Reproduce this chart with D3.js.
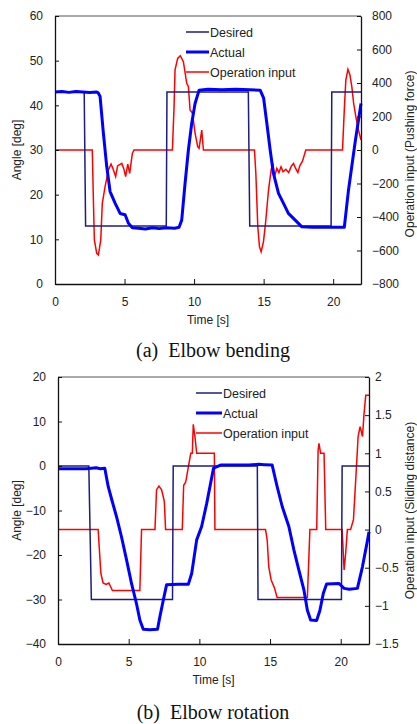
<!DOCTYPE html>
<html>
<head>
<meta charset="utf-8">
<script src="https://cdn.jsdelivr.net/npm/d3@7"></script>
<style>
  body { margin: 0; background: #fff; }
  svg { display: block; }
</style>
</head>
<body>
<div id="chart"></div>
<script>
// time [s], value pairs
const desiredBend = [[0, 43], [2.1, 43], [2.2, 13], [8.0, 13], [8.05, 43], [13.9, 43], [14.0, 13], [19.85, 13], [19.9, 43], [22, 43]];
const actualBend = [[0, 43], [0.5, 43.1], [1, 42.9], [1.5, 43.1], [2, 43], [2.5, 42.9], [3.0, 43], [3.1, 42.8], [3.24, 42], [3.48, 33.7], [3.72, 26.3], [3.96, 20.7], [4.32, 18.1], [4.68, 15.8], [5.04, 15.5], [5.28, 13.6], [5.56, 12.6], [6, 12.5], [6.5, 12.3], [7, 12.6], [7.5, 12.4], [8, 12.6], [8.6, 12.5], [8.92, 12.7], [9.11, 14.3], [9.35, 22.5], [9.59, 30], [9.83, 36], [10.07, 40.4], [10.36, 43.4], [11, 43.6], [12, 43.5], [13, 43.6], [14, 43.5], [14.75, 43.4], [15.0, 41.6], [15.23, 36], [15.47, 30], [15.7, 24.8], [16.07, 20.3], [16.42, 18.1], [16.78, 15.8], [17.27, 14.3], [17.75, 12.8], [18.5, 12.7], [19.5, 12.7], [20.8, 12.7], [21.1, 21], [21.58, 31.8], [22, 40.4]];
const inputBend = [[0, 0], [2.68, 0], [2.76, -299], [2.83, -537], [3.0, -617], [3.12, -627], [3.29, -537], [3.4, -318], [3.6, -219], [3.84, -119], [4.03, -84], [4.14, -105], [4.36, -159], [4.5, -95], [4.8, -80], [4.94, -110], [5.08, -159], [5.23, -84], [5.37, -139], [5.56, -20], [5.68, 0], [8.44, 0], [8.56, 259], [8.63, 478], [8.82, 547], [9.01, 563], [9.23, 527], [9.47, 398], [9.59, 380], [9.71, 239], [9.88, 220], [10.07, 100], [10.26, 20], [10.36, 10], [10.55, 119], [10.67, 0], [14.34, 0], [14.44, -139], [14.58, -458], [14.7, -577], [14.82, -607], [14.99, -547], [15.16, -418], [15.35, -239], [15.54, -119], [15.66, -80], [15.78, -159], [15.95, -110], [16.1, -135], [16.25, -100], [16.4, -130], [16.6, -115], [16.8, -135], [17.0, -95], [17.15, -80], [17.3, -110], [17.46, -135], [17.6, -95], [17.8, -65], [18.03, 0], [20.67, 0], [20.81, 259], [20.91, 418], [21.06, 482], [21.2, 450], [21.34, 378], [21.47, 279], [21.63, 199], [21.82, 119], [22, 60]];

const desiredRot = [[0, 0], [2.18, 0], [2.36, -30], [8.1, -30], [8.15, 0], [14.1, 0], [14.15, -30], [20.05, -30], [20.1, 0], [22, 0]];
const actualRot = [[0, -0.6], [1, -0.6], [2, -0.6], [2.7, -0.4], [3, -0.6], [3.31, -0.5], [3.55, -4.6], [3.78, -7.3], [4.14, -11.4], [4.49, -15.9], [4.85, -21.1], [5.2, -26.4], [5.55, -30.9], [5.79, -34.6], [6.03, -36.7], [6.5, -36.8], [7.04, -36.7], [7.21, -33.8], [7.45, -30.1], [7.68, -26.7], [8.5, -26.6], [9.22, -26.6], [9.46, -24.1], [9.81, -16.6], [10.16, -13.6], [10.52, -8.4], [11.0, -0.5], [11.5, 0.2], [12.5, 0.2], [13.5, 0.2], [14.2, 0.4], [14.6, 0.3], [15.15, 0.2], [15.5, -4.6], [15.86, -9.1], [16.33, -13.6], [16.69, -18.9], [17.04, -23.4], [17.4, -27.9], [17.64, -32.4], [17.87, -34.6], [18.3, -34.7], [18.53, -32.4], [18.77, -28.6], [19.0, -26.5], [19.88, -26.4], [20.24, -27.5], [20.6, -27.7], [21.18, -27.5], [21.54, -22.6], [21.9, -16.6], [22, -14.8]];
const inputRot = [[0, 0], [2.84, 0], [3.03, -0.57], [3.19, -0.7], [3.4, -0.72], [3.6, -0.7], [3.85, -0.8], [5.79, -0.8], [5.91, 0], [6.86, 0], [6.97, 0.52], [7.14, 0.57], [7.33, 0.52], [7.52, 0.37], [7.61, 0], [8.79, 0], [8.89, 0.58], [9.03, 0.62], [9.22, 0.82], [9.39, 1.0], [9.5, 1.0], [9.57, 1.38], [9.7, 1.2], [9.81, 1.0], [11.06, 1.0], [11.1, 0], [14.68, 0], [14.8, -0.14], [14.91, -0.49], [15.08, -0.66], [15.32, -0.77], [15.5, -0.89], [17.64, -0.89], [17.82, 0], [18.3, 0], [18.4, 1.04], [18.46, 1.13], [18.58, 1.0], [18.82, 1.0], [18.94, 0], [20.1, 0], [20.24, -0.53], [20.35, -0.31], [20.47, 0], [20.7, 0], [20.9, 0.13], [21.06, 0.65], [21.23, 1.22], [21.37, 1.35], [21.54, 1.22], [21.65, 1.52], [21.77, 1.76], [22, 1.76]];

const timeTicks = [0, 5, 10, 15, 20];
const angleTicksBend = [0, 10, 20, 30, 40, 50, 60];
const forceTicks = [-800, -600, -400, -200, 0, 200, 400, 600, 800];
const angleTicksRot = [-40, -30, -20, -10, 0, 10, 20];
const distTicks = [-1.5, -1, -0.5, 0, 0.5, 1, 1.5, 2];
const seriesNames = ["Desired", "Actual", "Operation input"];

const colors = { desired: "#1c1c82", actual: "#0000ff", input: "#ff0000" };
const sans = "'Liberation Sans', Arial, sans-serif";

const svg = d3.select("#chart")
  .append("svg")
  .attr("width", 417)
  .attr("height", 724);

function drawPanel(cfg) {
  const x = d3.scaleLinear().domain([0, 22]).range([cfg.left, cfg.right]);
  const yL = d3.scaleLinear().domain(cfg.leftDomain).range([cfg.bottom, cfg.top]);
  const yR = d3.scaleLinear().domain(cfg.rightDomain).range([cfg.bottom, cfg.top]);

  const g = svg.append("g").style("font-family", sans);

  // top border
  g.append("line")
    .attr("x1", cfg.left).attr("x2", cfg.right)
    .attr("y1", cfg.top).attr("y2", cfg.top)
    .attr("stroke", "#555").attr("stroke-width", 1);

  // series
  const lineL = d3.line().x((d) => x(d[0])).y((d) => yL(d[1]));
  const lineR = d3.line().x((d) => x(d[0])).y((d) => yR(d[1]));

  g.append("path").datum(cfg.input).attr("d", lineR)
    .attr("fill", "none").attr("stroke", colors.input).attr("stroke-width", 1.5);
  g.append("path").datum(cfg.desired).attr("d", lineL)
    .attr("fill", "none").attr("stroke", colors.desired).attr("stroke-width", 1.5);
  g.append("path").datum(cfg.actual).attr("d", lineL)
    .attr("fill", "none").attr("stroke", colors.actual).attr("stroke-width", 3)
    .attr("stroke-linejoin", "round");

  // axes (ticks point inward)
  const styleAxis = (a) => {
    a.select(".domain").attr("stroke", "#111").attr("stroke-width", 1.3);
    a.selectAll(".tick line").attr("stroke", "#111").attr("stroke-width", 1);
    a.selectAll(".tick text").attr("fill", "#222").style("font-size", "12px").style("font-family", sans);
  };

  g.append("g")
    .attr("transform", `translate(0,${cfg.bottom})`)
    .call(d3.axisBottom(x).tickValues(timeTicks).tickSizeInner(-5).tickSizeOuter(0).tickPadding(13))
    .call(styleAxis);

  g.append("g")
    .attr("transform", `translate(${cfg.left},0)`)
    .call(d3.axisLeft(yL).tickValues(cfg.leftTicks).tickSizeInner(-4).tickSizeOuter(0).tickPadding(12))
    .call(styleAxis);

  g.append("g")
    .attr("transform", `translate(${cfg.right},0)`)
    .call(d3.axisRight(yR).tickValues(cfg.rightTicks).tickSizeInner(-4).tickSizeOuter(0)
      .tickPadding(cfg.rightPad).tickFormat(d3.format("")))
    .call(styleAxis);

  // axis titles
  const midY = (cfg.top + cfg.bottom) / 2;
  g.append("text")
    .attr("x", (cfg.left + cfg.right) / 2).attr("y", cfg.bottom + 40)
    .attr("text-anchor", "middle").style("font-size", "12px").attr("fill", "#222")
    .text("Time [s]");
  g.append("text")
    .attr("transform", `translate(21,${midY}) rotate(-90)`)
    .attr("text-anchor", "middle").style("font-size", "12px").attr("fill", "#222")
    .text("Angle [deg]");
  g.append("text")
    .attr("transform", `translate(414,${midY + cfg.rightTitleShift}) rotate(-90)`)
    .attr("text-anchor", "middle").style("font-size", "12px").attr("fill", "#222")
    .text(cfg.rightTitle);

  // legend
  const legend = g.append("g")
    .selectAll("g")
    .data(seriesNames)
    .join("g")
    .attr("transform", (d, i) => `translate(${cfg.legendX},${cfg.top + 16 + i * 20})`);
  legend.append("line")
    .attr("x1", 0).attr("x2", cfg.legendW).attr("y1", 0).attr("y2", 0)
    .attr("stroke", (d, i) => [colors.desired, colors.actual, colors.input][i])
    .attr("stroke-width", (d, i) => [1.5, 3, 1.5][i]);
  legend.append("text")
    .attr("x", cfg.legendW + 1).attr("y", 4.5)
    .style("font-size", "12.5px").attr("fill", "#222")
    .text((d) => d);

  // caption
  svg.append("text")
    .attr("x", 213).attr("y", cfg.captionY)
    .attr("text-anchor", "middle")
    .attr("xml:space", "preserve")
    .style("font-family", "'Liberation Serif', 'Times New Roman', serif")
    .style("font-size", "20px").attr("fill", "#111")
    .text(cfg.caption);
}

drawPanel({
  left: 55, right: 361, top: 16, bottom: 284,
  leftDomain: [0, 60], rightDomain: [-800, 800],
  leftTicks: angleTicksBend, rightTicks: forceTicks, rightPad: 11,
  desired: desiredBend, actual: actualBend, input: inputBend,
  rightTitle: "Operation input (Pushing force)", rightTitleShift: 4,
  legendX: 186, legendW: 23,
  caption: "(a)  Elbow bending", captionY: 357
});

drawPanel({
  left: 58, right: 369, top: 377, bottom: 644,
  leftDomain: [-40, 20], rightDomain: [-1.5, 2],
  leftTicks: angleTicksRot, rightTicks: distTicks, rightPad: 6,
  desired: desiredRot, actual: actualRot, input: inputRot,
  rightTitle: "Operation input (Sliding distance)", rightTitleShift: 0,
  legendX: 196, legendW: 26,
  caption: "(b)  Elbow rotation", captionY: 719
});
</script>
</body>
</html>
